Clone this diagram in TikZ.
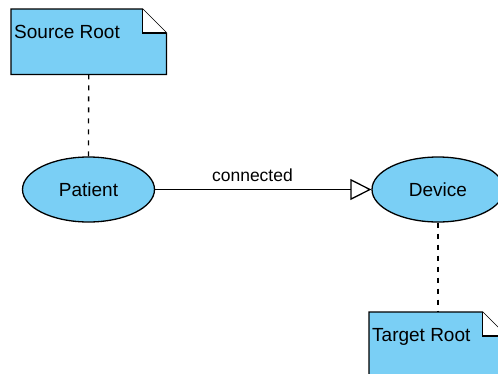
\documentclass[tikz,border=0pt]{standalone}
\usepackage{fontspec}
\setmainfont{Liberation Sans}
\usetikzlibrary{shapes.geometric,arrows.meta}

\definecolor{boxblue}{RGB}{122,207,245}

\tikzset{
  concept/.style={ellipse, draw, line width=1.3pt, fill=boxblue, inner sep=0pt,
    minimum width=132pt, minimum height=65pt, font=\fontsize{19}{22}\selectfont},
  notebody/.style={rectangle, inner sep=0pt, anchor=north west, minimum height=65pt},
  notetext/.style={anchor=base west, inner sep=0pt, font=\fontsize{19}{22}\selectfont},
  anchorline/.style={line width=1.3pt, dash pattern=on 5pt off 6pt},
  relation/.style={line width=1.3pt, -{Triangle[open, length=21pt, width=21pt, fill=white]}}
}

\begin{document}
\begin{tikzpicture}[x=1pt, y=-1pt]
    \useasboundingbox (0,0) rectangle (498,373);

    % folded notes
    \node[notebody, minimum width=155pt] (src) at (11,9) {};
    \node[notebody, minimum width=137pt] (tgt) at (369,312) {};
    \draw[line width=1.3pt, fill=boxblue] (src.south west) -- (src.north west) -- ([xshift=-24pt]src.north east) -- ([yshift=-24pt]src.north east) -- (src.south east) -- cycle;
    \draw[line width=1.3pt, fill=white] ([xshift=-24pt]src.north east) -- ([xshift=-24pt,yshift=-24pt]src.north east) -- ([yshift=-24pt]src.north east);
    \draw[line width=1.3pt, fill=boxblue] (tgt.south west) -- (tgt.north west) -- ([xshift=-24pt]tgt.north east) -- ([yshift=-24pt]tgt.north east) -- (tgt.south east) -- cycle;
    \draw[line width=1.3pt, fill=white] ([xshift=-24pt]tgt.north east) -- ([xshift=-24pt,yshift=-24pt]tgt.north east) -- ([yshift=-24pt]tgt.north east);
    \node[notetext] (srclabel) at ([xshift=3pt,yshift=-29pt]src.north west) {Source Root};
    \node[notetext] (tgtlabel) at ([xshift=3pt,yshift=-29pt]tgt.north west) {Target Root};

    % classes
    \node[concept] (patient) at (88.5,189.5) {Patient};
    \node[concept] (device) at (438,189.5) {Device};

    \draw[anchorline] (src.south) -- (patient.north);
    \draw[anchorline] (device.south) -- (tgt.north -| device.south);

    \draw[relation] (patient) -- node[pos=0.45, anchor=base, yshift=8pt, font=\fontsize{17.5}{20}\selectfont] (rellabel) {connected} (device);

\end{tikzpicture}
\end{document}
